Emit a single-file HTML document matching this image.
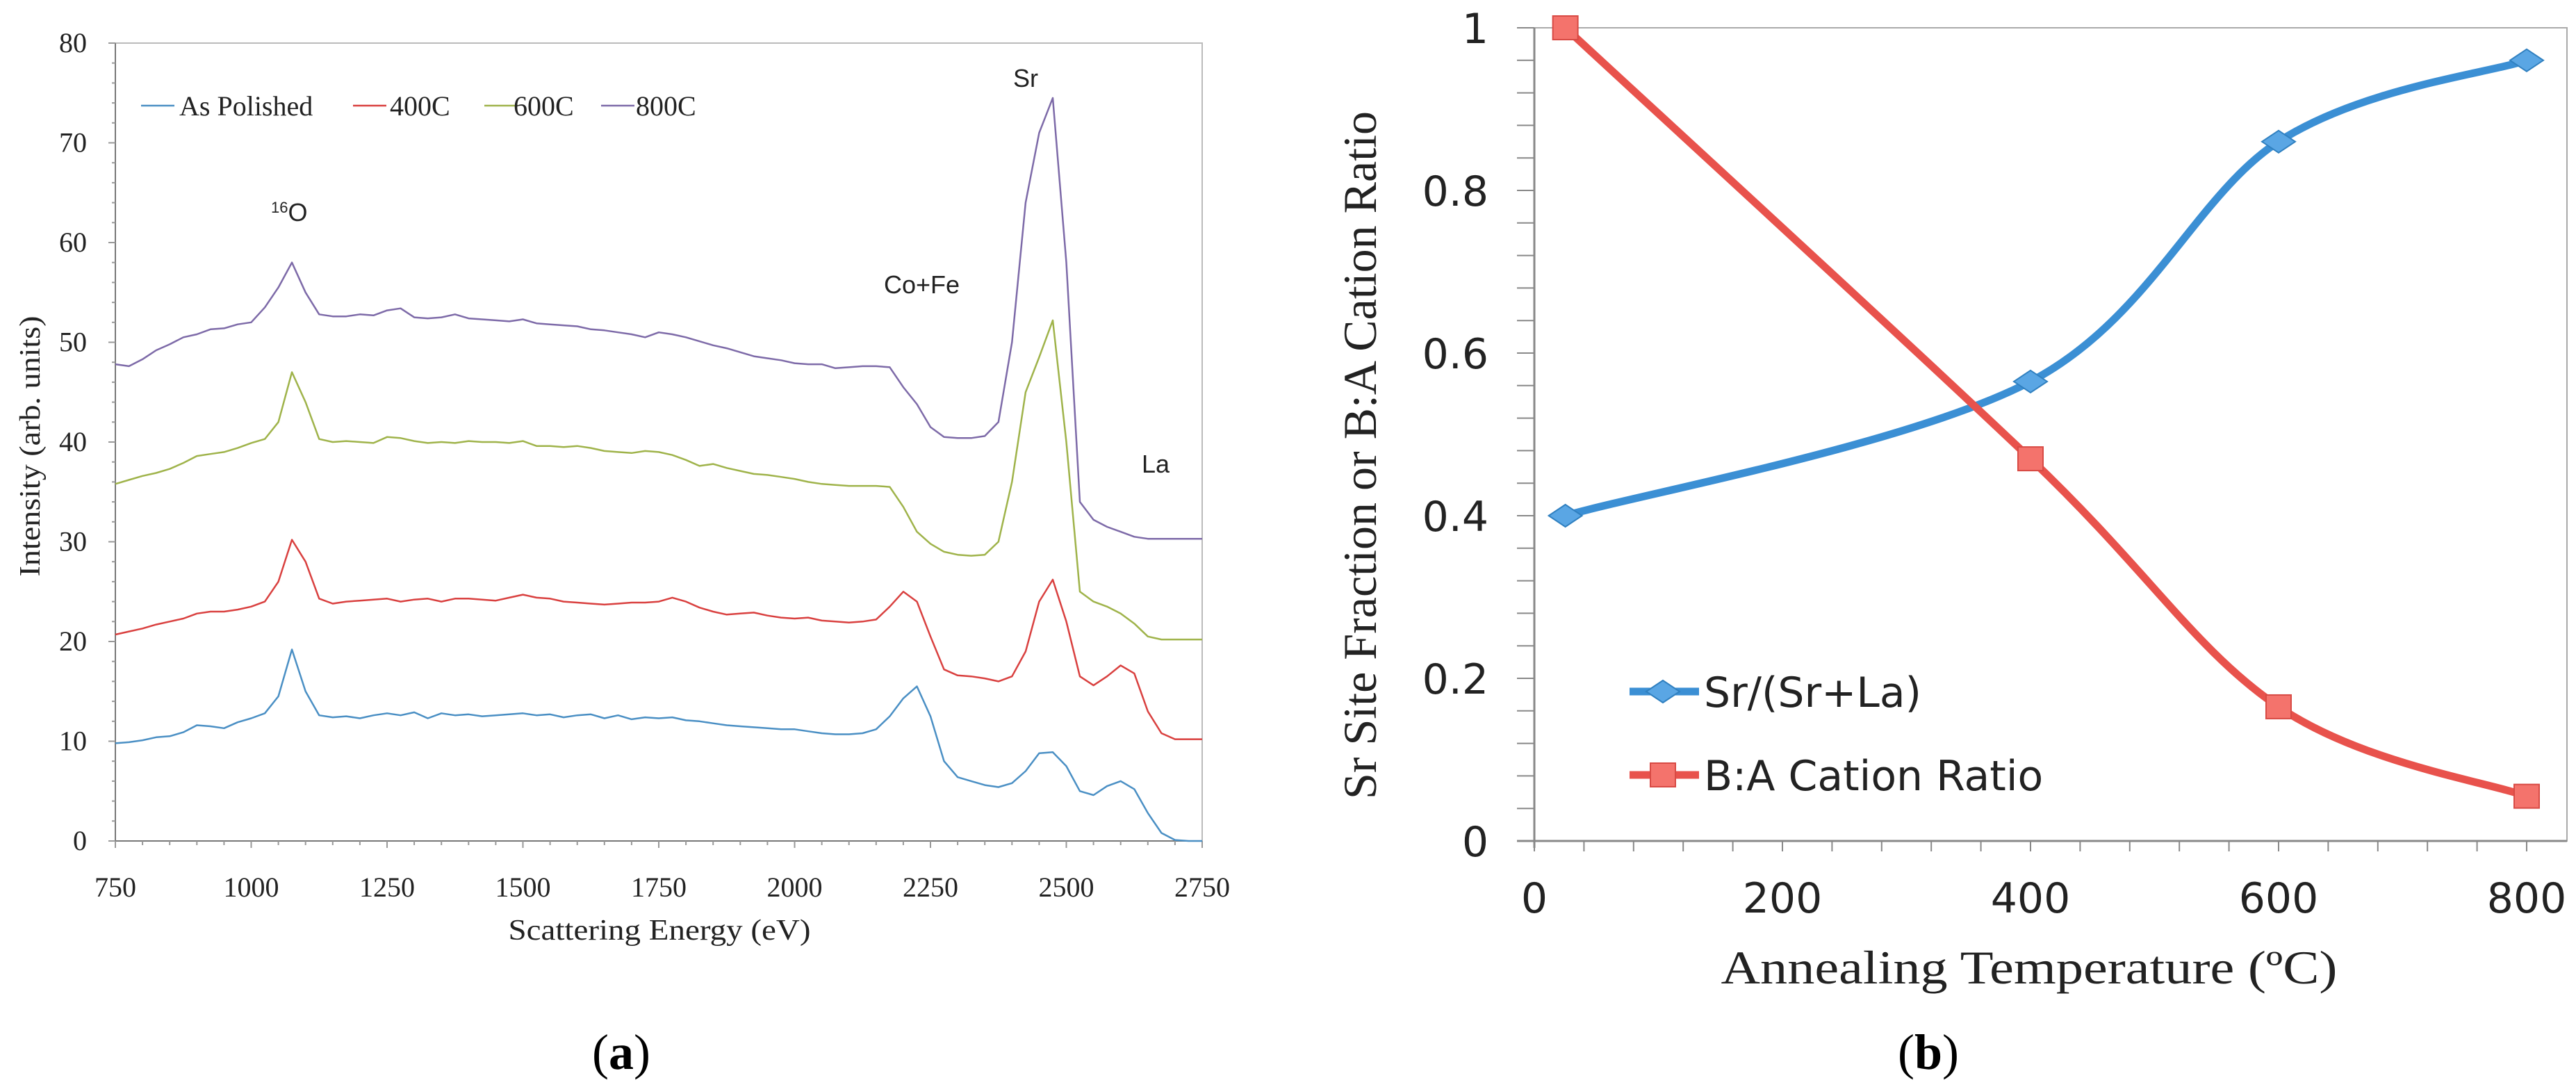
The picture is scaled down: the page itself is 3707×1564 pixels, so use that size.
<!DOCTYPE html>
<html><head><meta charset="utf-8">
<style>
html,body{margin:0;padding:0;background:#fff;}
svg{display:block;}
</style></head>
<body>
<svg id="fig" width="3707" height="1564" viewBox="0 0 3707 1564" xmlns="http://www.w3.org/2000/svg">
<g id="chartA"></g>
<g id="chartB"></g>
</svg>
<script>
// ---------- Chart (a) data ----------
const energyStart = 750;
const energyStep = 25;
const seriesNames = ["As Polished", "400C", "600C", "800C"];
const asPolished = [9.8,9.9,10.1,10.4, 10.5,10.9,11.6,11.5, 11.3,11.9,12.3,12.8, 14.5,19.2,15.0,12.6,
 12.4,12.5,12.3,12.6, 12.8,12.6,12.9,12.3, 12.8,12.6,12.7,12.5, 12.6,12.7,12.8,12.6, 12.7,12.4,12.6,12.7,
 12.3,12.6,12.2,12.4, 12.3,12.4,12.1,12.0, 11.8,11.6,11.5,11.4, 11.3,11.2,11.2,11.0, 10.8,10.7,10.7,10.8,
 11.2,12.5,14.3,15.5, 12.5,8.0,6.4,6.0, 5.6,5.4,5.8,7.0, 8.8,8.9,7.5,5.0, 4.6,5.5,6.0,5.2, 2.8,0.8,0.1,0, 0];
const anneal400 = [20.7,21.0,21.3,21.7, 22.0,22.3,22.8,23.0, 23.0,23.2,23.5,24.0, 26.0,30.2,28.0,24.3,
 23.8,24.0,24.1,24.2, 24.3,24.0,24.2,24.3, 24.0,24.3,24.3,24.2, 24.1,24.4,24.7,24.4, 24.3,24.0,23.9,23.8,
 23.7,23.8,23.9,23.9, 24.0,24.4,24.0,23.4, 23.0,22.7,22.8,22.9, 22.6,22.4,22.3,22.4, 22.1,22.0,21.9,22.0,
 22.2,23.5,25.0,24.0, 20.5,17.2,16.6,16.5, 16.3,16.0,16.5,19.0, 24.0,26.2,22.0,16.5, 15.6,16.5,17.6,16.8, 13.0,10.8,10.2,10.2, 10.2];
const anneal600 = [35.8,36.2,36.6,36.9, 37.3,37.9,38.6,38.8, 39.0,39.4,39.9,40.3, 42.0,47.0,44.0,40.3,
 40.0,40.1,40.0,39.9, 40.5,40.4,40.1,39.9, 40.0,39.9,40.1,40.0, 40.0,39.9,40.1,39.6, 39.6,39.5,39.6,39.4,
 39.1,39.0,38.9,39.1, 39.0,38.7,38.2,37.6, 37.8,37.4,37.1,36.8, 36.7,36.5,36.3,36.0, 35.8,35.7,35.6,35.6,
 35.6,35.5,33.5,31.0, 29.8,29.0,28.7,28.6, 28.7,30.0,36.0,45.0, 48.5,52.2,40.0,25.0, 24.0,23.5,22.8,21.8, 20.5,20.2,20.2,20.2, 20.2];
const anneal800 = [47.8,47.6,48.3,49.2, 49.8,50.5,50.8,51.3, 51.4,51.8,52.0,53.5, 55.5,58.0,55.0,52.8,
 52.6,52.6,52.8,52.7, 53.2,53.4,52.5,52.4, 52.5,52.8,52.4,52.3, 52.2,52.1,52.3,51.9, 51.8,51.7,51.6,51.3,
 51.2,51.0,50.8,50.5, 51.0,50.8,50.5,50.1, 49.7,49.4,49.0,48.6, 48.4,48.2,47.9,47.8, 47.8,47.4,47.5,47.6,
 47.6,47.5,45.5,43.8, 41.5,40.5,40.4,40.4, 40.6,42.0,50.0,64.0, 71.0,74.5,58.0,34.0, 32.2,31.5,31.0,30.5, 30.3,30.3,30.3,30.3, 30.3];
const xTicksA = [750,1000,1250,1500,1750,2000,2250,2500,2750];
const yTicksA = [0,10,20,30,40,50,60,70,80];

// ---------- Chart (b) data ----------
const temps = [25, 400, 600, 800];
const srFraction = [0.40, 0.565, 0.86, 0.96];
const baRatio = [1.0, 0.47, 0.165, 0.055];
const xTicksB = [0,200,400,600,800];
const yTicksB = [0,0.2,0.4,0.6,0.8,1];
const yTickLabelsB = ["0","0.2","0.4","0.6","0.8","1"];

const NS = "http://www.w3.org/2000/svg";
function mk(parent, tag, attrs, text){
  const e = document.createElementNS(NS, tag);
  for (const k in attrs) e.setAttribute(k, attrs[k]);
  if (text !== undefined) e.textContent = text;
  parent.appendChild(e);
  return e;
}

// ===== Chart A =====
(function(){
  const g = document.getElementById('chartA');
  const L=166, R=1730, T=62, B=1210;
  const xA = v => L + (v-750)/2000*(R-L);
  const yA = v => B - v/80*(B-T);
  let e = mk(g,'rect',{x:L,y:T,width:R-L,height:B-T,fill:'none',stroke:'#bbb','stroke-width':2});
   
  mk(g,'line',{x1:L,y1:T,x2:L,y2:B,stroke:'#777','stroke-width':2});
  mk(g,'line',{x1:L,y1:B,x2:R,y2:B,stroke:'#777','stroke-width':2});
  for (let v=0; v<=80; v+=2){ mk(g,'line',{x1:L-(v%10===0?10:5),y1:yA(v),x2:L,y2:yA(v),stroke:'#999','stroke-width':2}); }
  for (let v=750; v<=2750; v+=50){ mk(g,'line',{x1:xA(v),y1:B,x2:xA(v),y2:B+(v%250===0?10:6),stroke:'#999','stroke-width':2}); }
  yTicksA.forEach(v=>{
    const t = mk(g,'text',{x:125,y:yA(v)+13,'text-anchor':'end','font-family':'Liberation Serif, serif','font-size':40,fill:'#222'}, String(v));
     
  });
  xTicksA.forEach(v=>{
    const t = mk(g,'text',{x:xA(v),y:1290,'text-anchor':'middle','font-family':'Liberation Serif, serif','font-size':40,fill:'#222'}, String(v));
     
  });
  let t = mk(g,'text',{x:949,y:1352,'text-anchor':'middle','font-family':'Liberation Serif, serif','font-size':42,fill:'#222',textLength:435,lengthAdjust:'spacingAndGlyphs'},'Scattering Energy (eV)');
   
  t = mk(g,'text',{x:0,y:0,'text-anchor':'middle','font-family':'Liberation Serif, serif','font-size':42,fill:'#222',textLength:375,lengthAdjust:'spacingAndGlyphs',transform:'translate(57,642) rotate(-90)'},'Intensity (arb. units)');
   

  const colors = ['#4a8fc4','#d9403f','#9fb34a','#7d6aa8'];
  const data = [asPolished, anneal400, anneal600, anneal800];
  data.forEach((arr,si)=>{
    const pts = arr.map((v,i)=> xA(energyStart+i*energyStep).toFixed(1)+','+yA(v).toFixed(1)).join(' ');
    const p = mk(g,'polyline',{points:pts,fill:'none',stroke:colors[si],'stroke-width':2.5,'stroke-linejoin':'round'});
    
    
  });
  const legX = [203,508,697,865];
  const legTX = [258,561,739,915];
  seriesNames.forEach((n,i)=>{
    const l = mk(g,'line',{x1:legX[i],y1:152,x2:legX[i]+48,y2:152,stroke:colors[i],'stroke-width':2.5});
     
    const tt = mk(g,'text',{x:legTX[i],y:166,'font-family':'Liberation Serif, serif','font-size':40,fill:'#222'}, n);
     
  });
  const ann = [['Sr',1458,125],['Co+Fe',1272,422],['La',1643,680]];
  ann.forEach(a=>{
    const tt = mk(g,'text',{x:a[1],y:a[2],'font-family':'Liberation Sans, sans-serif','font-size':36,fill:'#222'}, a[0]);
     
  });
  const o = mk(g,'text',{x:390,y:318,'font-family':'Liberation Sans, sans-serif','font-size':36,fill:'#222'});
   
  mk(o,'tspan',{'font-size':22,dy:-12},'16');
  mk(o,'tspan',{dy:12},'O');
  t = mk(g,'text',{x:894,y:1538,'text-anchor':'middle','font-family':'Liberation Serif, serif','font-size':72,fill:'#000'});
   
  mk(t,'tspan',{},'(');
  mk(t,'tspan',{'font-weight':'bold'},'a');
  mk(t,'tspan',{},')');
})();

// ===== Chart B =====
(function(){
  const g = document.getElementById('chartB');
  const L=2208, R=3694, T=40, B=1210;
  const xB = v => L + v/800*(3636-L);
  const yB = v => B - v*(B-T);
  let e = mk(g,'rect',{x:L,y:T,width:R-L,height:B-T,fill:'none',stroke:'#aaa','stroke-width':2});
   
  mk(g,'line',{x1:L,y1:T,x2:L,y2:B+10,stroke:'#888','stroke-width':3});
  mk(g,'line',{x1:L-25,y1:B,x2:R,y2:B,stroke:'#888','stroke-width':3});
  for (let i=0;i<=25;i++){ const v=i*0.04; mk(g,'line',{x1:L-25,y1:yB(v),x2:L,y2:yB(v),stroke:'#888','stroke-width':2}); }
  for (let v=0; v<=800; v+=40){ mk(g,'line',{x1:xB(v),y1:B,x2:xB(v),y2:B+15,stroke:'#888','stroke-width':2}); }
  yTicksB.forEach((v,i)=>{
    const t = mk(g,'text',{x:2142,y:yB(v)+22,'text-anchor':'end','font-family':'DejaVu Sans, sans-serif','font-size':60,fill:'#222'}, yTickLabelsB[i]);
     
  });
  xTicksB.forEach(v=>{
    const t = mk(g,'text',{x:xB(v),y:1313,'text-anchor':'middle','font-family':'DejaVu Sans, sans-serif','font-size':60,fill:'#222'}, String(v));
     
  });
  let t = mk(g,'text',{x:2920,y:1415,'text-anchor':'middle','font-family':'Liberation Serif, serif','font-size':68,fill:'#222',textLength:887,lengthAdjust:'spacingAndGlyphs'},'Annealing Temperature (ºC)');
   
  t = mk(g,'text',{x:0,y:0,'text-anchor':'middle','font-family':'Liberation Serif, serif','font-size':68,fill:'#222',textLength:990,lengthAdjust:'spacingAndGlyphs',transform:'translate(1980,655) rotate(-90)'},'Sr Site Fraction or B:A Cation Ratio');
   

  function smooth(xs, ys){
    const P = xs.map((x,i)=>[xB(x), yB(ys[i])]);
    let d = 'M'+P[0][0]+','+P[0][1];
    for (let i=0;i<P.length-1;i++){
      const p0=P[Math.max(0,i-1)], p1=P[i], p2=P[i+1], p3=P[Math.min(P.length-1,i+2)];
      const c1=[p1[0]+(p2[0]-p0[0])/6, p1[1]+(p2[1]-p0[1])/6];
      const c2=[p2[0]-(p3[0]-p1[0])/6, p2[1]-(p3[1]-p1[1])/6];
      d += ' C'+c1[0]+','+c1[1]+' '+c2[0]+','+c2[1]+' '+p2[0]+','+p2[1];
    }
    return d;
  }
  const blue='#3b8fd4', red='#e8524c';
  let p = mk(g,'path',{d:smooth(temps,srFraction),fill:'none',stroke:blue,'stroke-width':11,'stroke-linecap':'round'});
   
  p = mk(g,'path',{d:smooth(temps,baRatio),fill:'none',stroke:red,'stroke-width':11,'stroke-linecap':'round'});
   
  temps.forEach((x,i)=>{
    const cx=xB(x), cy=yB(srFraction[i]);
    const m = mk(g,'polygon',{points:`${cx-24},${cy} ${cx},${cy-16} ${cx+24},${cy} ${cx},${cy+16}`,fill:'#5aa6e4',stroke:'#3080c0','stroke-width':2});
     
  });
  temps.forEach((x,i)=>{
    const cx=xB(x), cy=yB(baRatio[i]);
    const m = mk(g,'rect',{x:cx-18,y:cy-17,width:36,height:34,fill:'#f4736c',stroke:'#d84a44','stroke-width':2});
     
  });
  // legend
  let l = mk(g,'line',{x1:2345,y1:995,x2:2445,y2:995,stroke:blue,'stroke-width':11});
   
  mk(g,'polygon',{points:'2369,995 2393,979 2417,995 2393,1011',fill:'#5aa6e4',stroke:'#3080c0','stroke-width':2});
  t = mk(g,'text',{x:2452,y:1017,'font-family':'DejaVu Sans, sans-serif','font-size':60,fill:'#222'},'Sr/(Sr+La)');
   
  l = mk(g,'line',{x1:2345,y1:1115,x2:2445,y2:1115,stroke:red,'stroke-width':11});
   
  mk(g,'rect',{x:2375,y:1098,width:36,height:34,fill:'#f4736c',stroke:'#d84a44','stroke-width':2});
  t = mk(g,'text',{x:2452,y:1137,'font-family':'DejaVu Sans, sans-serif','font-size':60,fill:'#222'},'B:A Cation Ratio');
   
  t = mk(g,'text',{x:2775,y:1538,'text-anchor':'middle','font-family':'Liberation Serif, serif','font-size':72,fill:'#000'});
   
  mk(t,'tspan',{},'(');
  mk(t,'tspan',{'font-weight':'bold'},'b');
  mk(t,'tspan',{},')');
})();
</script>
</body></html>
